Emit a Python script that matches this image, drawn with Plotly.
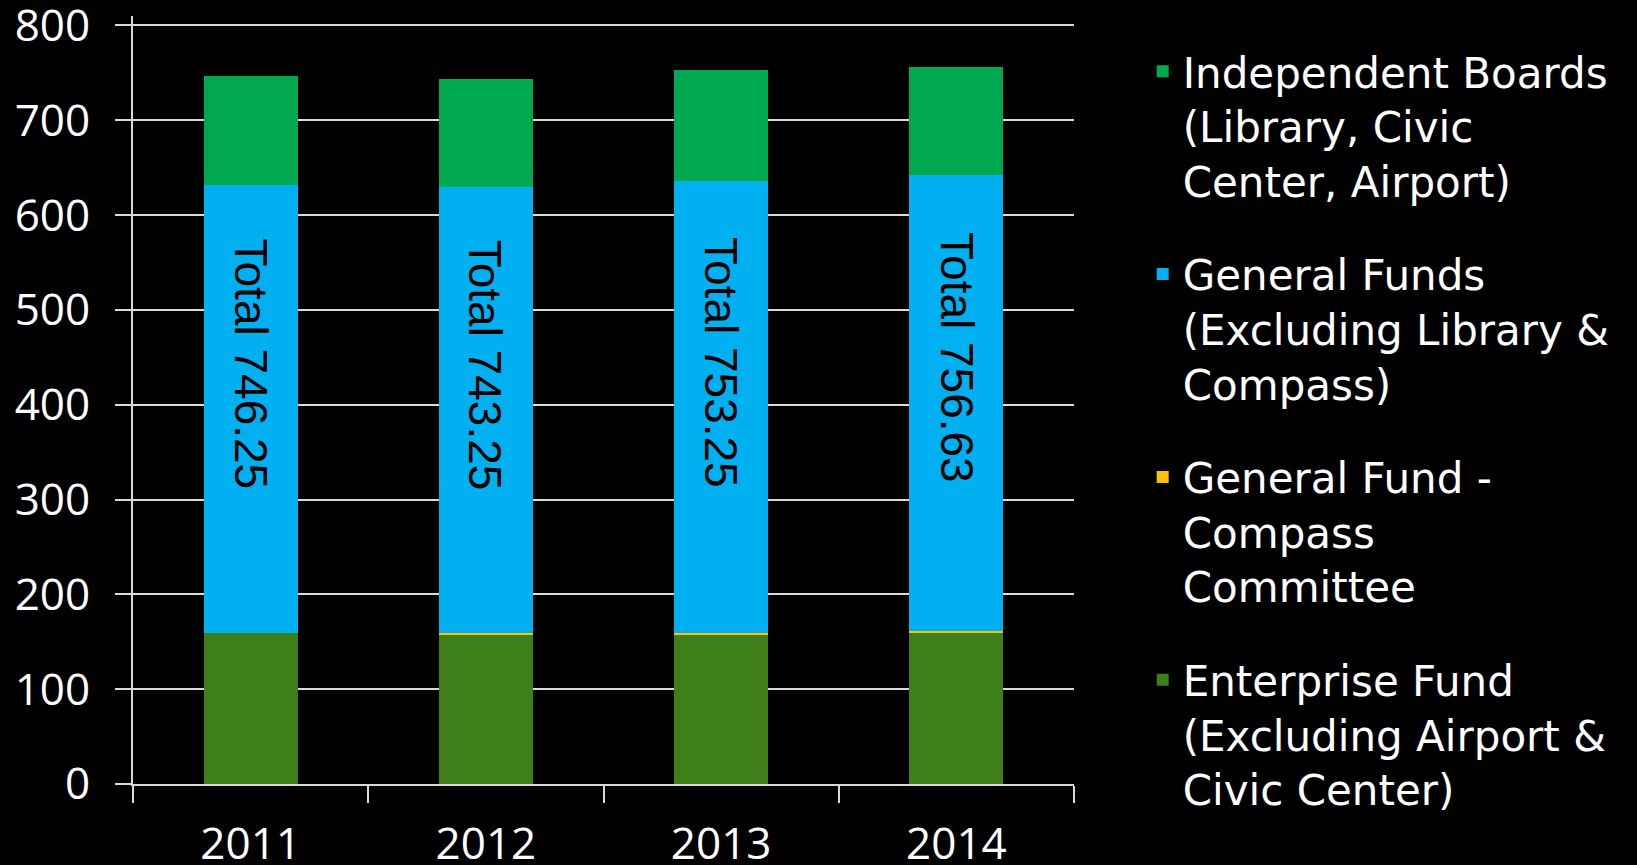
import plotly.graph_objects as go

years = ["2011", "2012", "2013", "2014"]
enterprise = [159, 157.5, 157.5, 159.5]
compass = [0, 1.5, 1.5, 1.5]
general = [473, 470.5, 476.5, 481.5]
independent = [114.25, 113.75, 117.75, 114.13]
totals = [746.25, 743.25, 753.25, 756.63]

names = [
    "Independent Boards<br>(Library, Civic<br>Center, Airport)",
    "General Funds<br>(Excluding Library &<br>Compass)",
    "General Fund -<br>Compass<br>Committee",
    "Enterprise Fund<br>(Excluding Airport &<br>Civic Center)",
]
colors = ["#00a84f", "#00b0f0", "#ffc000", "#3f7f1a"]
series = [independent, general, compass, enterprise]

fig = go.Figure()
# stack from bottom up; legend lists top segment first
for rank, (name, col, vals) in reversed(list(enumerate(zip(names, colors, series)))):
    fig.add_trace(go.Bar(x=years, y=vals, name=name, marker_color=col,
                         marker_line_width=0, legendgroup=name, legendrank=rank + 1))

# category axis -> annotations use the category index
for i, (t, e, c, g) in enumerate(zip(totals, enterprise, compass, general)):
    fig.add_annotation(x=i, y=e + c + g * 0.6, text=f"Total {t:.2f}",
                       textangle=90, showarrow=False,
                       font=dict(family="Liberation Sans", size=46, color="black"))

fig.update_layout(
    barmode="stack",
    bargap=0.6,
    width=1637, height=865,
    paper_bgcolor="black", plot_bgcolor="black",
    margin=dict(l=133, r=563, t=16, b=81),
    font=dict(family="Open Sans", color="white"),
    legend=dict(x=1.073, y=0.972, xanchor="left", yanchor="top", valign="top",
                traceorder="grouped", tracegroupgap=36, maxheight=860,
                font=dict(family="DejaVu Sans", size=42, color="white"),
                bgcolor="rgba(0,0,0,0)"),
)
fig.update_yaxes(range=[0, 810], tickvals=list(range(0, 801, 100)),
                 showgrid=True, gridcolor="#d9d9d9",
                 gridwidth=2, showline=True, linecolor="#d9d9d9", linewidth=2,
                 ticks="outside", ticklen=16, tickcolor="#d9d9d9", tickwidth=2,
                 tickfont=dict(size=44, color="white"), ticklabelstandoff=16,
                 ticklabeloverflow="allow", zeroline=False, automargin=False)
fig.update_xaxes(type="category", range=[-0.5, 3.5],
                 showline=True, linecolor="#d9d9d9", linewidth=2,
                 ticks="outside", tickson="boundaries", ticklen=17,
                 tickcolor="#d9d9d9", tickwidth=2, tickangle=0,
                 tickfont=dict(size=44, color="white"), ticklabelstandoff=20,
                 automargin=False)

fig.write_html("out.html", config={"displayModeBar": False},
               post_script="document.body.style.margin='0';")
